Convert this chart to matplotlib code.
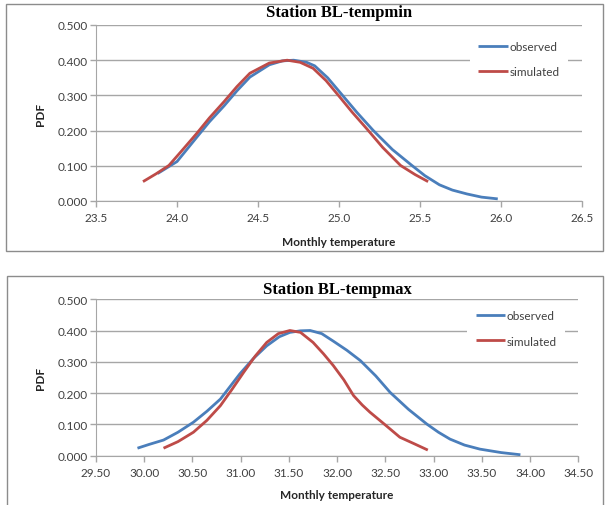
import matplotlib
matplotlib.use("Agg")
import matplotlib.pyplot as plt
from matplotlib.patches import Rectangle

# Station BL-tempmin
min_obs_x = [23.88, 24.0, 24.12, 24.2, 24.29, 24.37, 24.45, 24.57, 24.65, 24.72, 24.8, 24.85, 24.93, 25.02,
             25.11, 25.21, 25.33, 25.45, 25.53, 25.62, 25.7, 25.79, 25.88, 25.98]
min_obs_y = [0.078, 0.112, 0.180, 0.225, 0.270, 0.313, 0.352, 0.387, 0.398, 0.400, 0.394, 0.384, 0.350, 0.301,
             0.252, 0.201, 0.146, 0.101, 0.072, 0.046, 0.031, 0.020, 0.011, 0.006]
min_sim_x = [23.79, 23.87, 23.95, 24.03, 24.12, 24.2, 24.29, 24.37, 24.45, 24.57, 24.68, 24.76, 24.84, 24.92,
             25.0, 25.08, 25.17, 25.27, 25.38, 25.47, 25.55]
min_sim_y = [0.055, 0.077, 0.101, 0.143, 0.191, 0.236, 0.282, 0.325, 0.363, 0.392, 0.400, 0.394, 0.377, 0.342,
             0.298, 0.253, 0.206, 0.152, 0.101, 0.075, 0.055]

# Station BL-tempmax
max_obs_x = [29.93, 30.05, 30.2, 30.35, 30.51, 30.65, 30.79, 30.99, 31.13, 31.27, 31.4, 31.51, 31.62, 31.72,
             31.84, 31.96, 32.1, 32.24, 32.4, 32.55, 32.74, 32.93, 33.05, 33.17, 33.32, 33.48, 33.7, 33.9]
max_obs_y = [0.024, 0.036, 0.050, 0.075, 0.107, 0.142, 0.181, 0.261, 0.310, 0.351, 0.380, 0.394, 0.399, 0.400,
             0.390, 0.366, 0.337, 0.304, 0.255, 0.202, 0.148, 0.101, 0.075, 0.053, 0.034, 0.021, 0.010, 0.003]
max_sim_x = [30.2, 30.35, 30.51, 30.65, 30.79, 30.91, 31.03, 31.15, 31.27, 31.39, 31.51, 31.62, 31.75, 31.86,
             31.96, 32.07, 32.17, 32.26, 32.34, 32.5, 32.65, 32.8, 32.94]
max_sim_y = [0.024, 0.045, 0.075, 0.113, 0.160, 0.212, 0.266, 0.318, 0.362, 0.390, 0.400, 0.394, 0.362, 0.325,
             0.288, 0.242, 0.192, 0.162, 0.139, 0.098, 0.059, 0.038, 0.018]

yticks = [0.0, 0.1, 0.2, 0.3, 0.4, 0.5]
min_xticks = [23.5, 24.0, 24.5, 25.0, 25.5, 26.0, 26.5]
max_xticks = [29.5, 30.0, 30.5, 31.0, 31.5, 32.0, 32.5, 33.0, 33.5, 34.0, 34.5]

blue = "#4a7ebb"
red = "#be4b48"
grid_c = "#a6a6a6"
txt_c = "#404040"
sans = ["Lato", "DejaVu Sans"]

fig = plt.figure(figsize=(6.05, 5.06), dpi=100)

# gray frames round each chart
fig.patches.append(Rectangle((6 / 605, 1 - 252 / 506), 597 / 605, 247 / 506,
                             transform=fig.transFigure, fill=False, ec="#8c8c8c", lw=1.0))
fig.patches.append(Rectangle((7 / 605, -0.01), 596 / 605, 1 - 277 / 506 + 0.01,
                             transform=fig.transFigure, fill=False, ec="#8c8c8c", lw=1.0))


def draw(ax, title, ox, oy, sx, sy, xticks, fmt, axh, leg_off, title_pad, xpad):
    ax.plot(ox, oy, color=blue, lw=2.0, label="observed", solid_capstyle="butt", solid_joinstyle="round")
    ax.plot(sx, sy, color=red, lw=2.0, label="simulated", solid_capstyle="butt", solid_joinstyle="round")
    ax.set_xlim(xticks[0], xticks[-1])
    ax.set_ylim(0, 0.5)
    ax.set_xticks(xticks)
    ax.set_xticklabels([fmt.format(v) for v in xticks], family=sans, fontsize=8.5, color=txt_c)
    ax.set_yticks(yticks)
    ax.set_yticklabels(["{:.3f}".format(v) for v in yticks], family=sans, fontsize=8.5, color=txt_c)
    ax.grid(axis="y", color=grid_c, lw=1.0)
    ax.set_axisbelow(True)
    for s in ["top", "right"]:
        ax.spines[s].set_visible(False)
    for s in ["left", "bottom"]:
        ax.spines[s].set_color(grid_c)
    ax.tick_params(axis="both", color=grid_c, length=4, width=1.0, pad=2)
    ax.tick_params(axis="x", pad=4)
    ax.set_xlabel("Monthly temperature", family=sans, fontsize=8.5, fontweight="bold", color="#262626", labelpad=xpad)
    ax.set_ylabel("PDF", family=sans, fontsize=8.5, fontweight="bold", color="#262626", labelpad=8)
    ax.set_title(title, family="Liberation Serif", fontsize=12, fontweight="bold", pad=title_pad)
    leg = ax.legend(loc="upper left", bbox_to_anchor=(0.77, 1.0 - leg_off / axh), frameon=True, fancybox=False,
                    handlelength=2.5, handletextpad=0.15, labelspacing=1.2, borderaxespad=0.0,
                    borderpad=0.7, prop={"family": sans, "size": 8.5})
    leg.get_frame().set_facecolor("white")
    leg.get_frame().set_edgecolor("none")
    leg.get_frame().set_alpha(1.0)
    for t in leg.get_texts():
        t.set_color(txt_c)


ax1 = fig.add_axes([96 / 605, 1 - 202 / 506, 486 / 605, 176 / 506])
draw(ax1, "Station BL-tempmin", min_obs_x, min_obs_y, min_sim_x, min_sim_y, min_xticks, "{:.1f}",
     176, 8, 6.5, 9)

ax2 = fig.add_axes([96 / 605, 1 - 456.7 / 506, 482.3 / 605, 156.5 / 506])
draw(ax2, "Station BL-tempmax", max_obs_x, max_obs_y, max_sim_x, max_sim_y, max_xticks, "{:.2f}",
     156.5, 3, 4.5, 8)

fig.savefig("out.png", dpi=100)
